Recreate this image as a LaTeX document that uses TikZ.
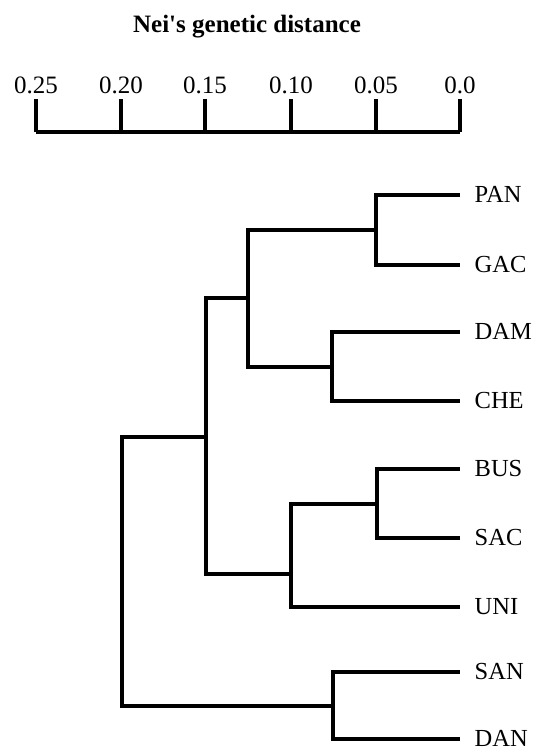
\documentclass[tikz,border=0pt]{standalone}
\usepackage{fontspec}
\setmainfont{Liberation Serif}[Ligatures=TeXOff]
\usetikzlibrary{calc}
\begin{document}
\begin{tikzpicture}[x=1pt,y=-1pt,
  branch/.style={draw=black,line width=3.2pt,line join=miter},
  leaflabel/.style={anchor=west,inner sep=0pt,font=\fontsize{24.5}{30}\selectfont},
  ticklabel/.style={anchor=base,inner sep=0pt,font=\fontsize{25}{30}\selectfont},
  titlelabel/.style={anchor=base,inner sep=0pt,font=\fontsize{25}{30}\selectfont\bfseries}]
\useasboundingbox (0,0) rectangle (534,750);
% title
\node[titlelabel] (title) at (247,32) {Nei's genetic distance};
% axis
\coordinate (a0) at (36,132);
\coordinate (a1) at (121,132);
\coordinate (a2) at (205,132);
\coordinate (a3) at (291,132);
\coordinate (a4) at (376,132);
\coordinate (a5) at (460,132);
\draw[branch] (a0) -- (a5);
\foreach \i/\t in {0/0.25,1/0.20,2/0.15,3/0.10,4/0.05,5/0.0}{
  \draw[branch] (a\i) -- ++(0,-33);
  \node[ticklabel] (t\i) at ($(a\i)+(0,-39)$) {\t};
}
% leaf ends
\coordinate (ePAN) at (460,195);
\coordinate (eGAC) at (460,265);
\coordinate (eDAM) at (460,332);
\coordinate (eCHE) at (460,401);
\coordinate (eBUS) at (460,469);
\coordinate (eSAC) at (460,538);
\coordinate (eUNI) at (460,607);
\coordinate (eSAN) at (460,672);
\coordinate (eDAN) at (460,739);
\foreach \n in {PAN,GAC,DAM,CHE,BUS,SAC,UNI,SAN,DAN}{
  \node[leaflabel] (\n) at ($(e\n)+(14.5,-0.8)$) {\n};
}
% internal nodes
\coordinate (n1) at (376,230);
\coordinate (n2) at (332,367);
\coordinate (n3) at (248,298);
\coordinate (n4) at (377,504);
\coordinate (n5) at (291,574);
\coordinate (n6) at (206,437);
\coordinate (n7) at (333,706);
\coordinate (root) at (122,572);
\draw[branch] (ePAN) -| (n1) |- (eGAC);
\draw[branch] (eDAM) -| (n2) |- (eCHE);
\draw[branch] (n1) -| (n3) |- (n2);
\draw[branch] (eBUS) -| (n4) |- (eSAC);
\draw[branch] (n4) -| (n5) |- (eUNI);
\draw[branch] (eSAN) -| (n7) |- (eDAN);
\draw[branch] (n3) -| (n6) |- (n5);
\draw[branch] (n6) -| (root) |- (n7);
\end{tikzpicture}
\end{document}
